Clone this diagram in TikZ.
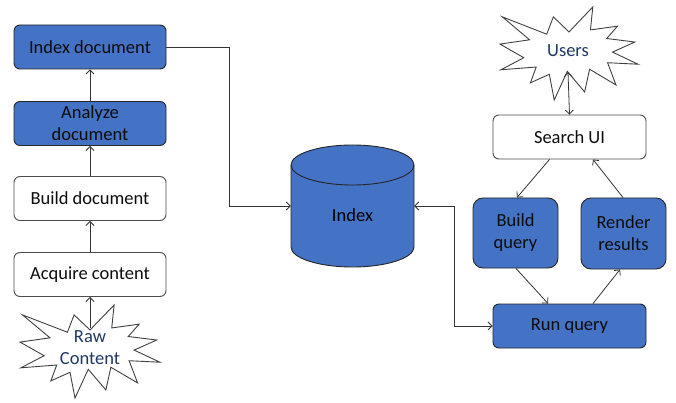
\documentclass[tikz,border=0pt]{standalone}
\usepackage{fontspec}
\setmainfont{Carlito}
\usetikzlibrary{arrows.meta}

\definecolor{boxblue}{HTML}{4472C4}
\definecolor{navytext}{HTML}{1F3864}

\tikzset{
  box/.style={rectangle, rounded corners=6pt, draw=black!70, line width=0.9pt,
    fill=white, minimum width=152pt, minimum height=44pt, align=center,
    text=black!95, inner sep=2pt},
  bluebox/.style={box, fill=boxblue, draw=black!85},
  cyl/.style={draw=black!85, fill=boxblue, line width=0.9pt},
  conn/.style={draw=black!80, line width=0.8pt, -{Straight Barb[length=4pt,width=8pt]}},
  both/.style={conn, {Straight Barb[length=4pt,width=8pt]}-{Straight Barb[length=4pt,width=8pt]}},
  burst/.style={align=center, text=navytext, inner sep=3pt},
  explosion/.pic={
    \draw[black!75, line width=0.9pt, shift={(-108,-108)}]
      (108,58) -- (145.22,0) -- (141.55,53.25) -- (183.80,44.57) -- (167.02,73.15)
      -- (210.97,81.37) -- (176.07,104.75) -- (216,132.9) -- (168.37,129.42)
      -- (181.45,180.95) -- (140.20,144.57) -- (132.47,197.37) -- (105.32,149.35)
      -- (84.85,216) -- (77.15,156.27) -- (47.62,176.17) -- (56.67,139.37)
      -- (1.35,145.87) -- (37.22,117.75) -- (0,86.15) -- (46.27,76.17)
      -- (3.70,22.95) -- (73.12,63.20) -- (83.52,22.95) -- cycle;
  }
}

\begin{document}
\begin{tikzpicture}[x=1pt, y=-1pt, font=\fontsize{18.5}{22}\selectfont]

\useasboundingbox (0,0) rectangle (676,403);

% Left column
\foreach \name/\txt/\y/\sty in {idxdoc/{Index document}/47/bluebox,
    analyze/{Analyze\\document}/123.5/bluebox,
    build/{Build document}/198.5/box,
    acq/{Acquire content}/274.5/box}
{
    \node[\sty] (\name) at (90,\y) {\txt};
}

% Raw content
\pic[xscale=0.648, yscale=0.4306] at (90,351.5) {explosion};
\node[burst] (raw) at (90,348) {Raw\\Content};

\foreach \a/\b in {raw/acq, acq/build, build/analyze, analyze/idxdoc}
{
    \draw[conn] (\a.north) -- (\b.south);
}

% Index (cylinder)
\begin{scope}[shift={(352.5,206)}]
    \draw[cyl] (-61.5,-41) -- (-61.5,41) arc (180:0:61.5 and 20)
        -- (61.5,-41) arc (0:-180:61.5 and 20) -- cycle;
    \draw[cyl, fill=none] (-61.5,-41) arc (180:0:61.5 and 20);
\end{scope}
\node[minimum width=123pt, minimum height=122pt, inner sep=0pt,
    label={[yshift=-9pt]center:Index}] (index) at (352.5,206) {};

\draw[conn] (idxdoc.east) -- ++(63,0) |- (index.west);

% Search side
\pic[xscale=0.639, yscale=0.4306] at (569,53.5) {explosion};
\node[burst, minimum height=42pt] (users) at (568,51) {Users};

\node[box, minimum width=153pt] (search) at (569.5,137) {Search UI};
\node[bluebox, rounded corners=10pt, minimum width=85pt,
    minimum height=70pt] (buildq) at (515.5,233) {Build\\query};
\node[bluebox, rounded corners=10pt, minimum width=85pt,
    minimum height=71pt] (render) at (623.5,233.5) {Render\\results};
\node[bluebox, minimum width=153pt] (runq) at (569.5,326) {Run query};

\draw[both] (users.south) -- (search.north);
\draw[conn] ([xshift=-20pt]search.south) -- ([xshift=1.5pt]buildq.north);
\draw[conn] ([xshift=-0.5pt]render.north) -- ([xshift=23.5pt]search.south);
\draw[conn] ([xshift=0.5pt]buildq.south) -- ([xshift=-21.5pt]runq.north);
\draw[conn] ([xshift=23.5pt]runq.north) -- ([xshift=-3.5pt]render.south);

\draw[both] (index.east) -- ++(40,0) |- (runq.west);

\end{tikzpicture}
\end{document}
